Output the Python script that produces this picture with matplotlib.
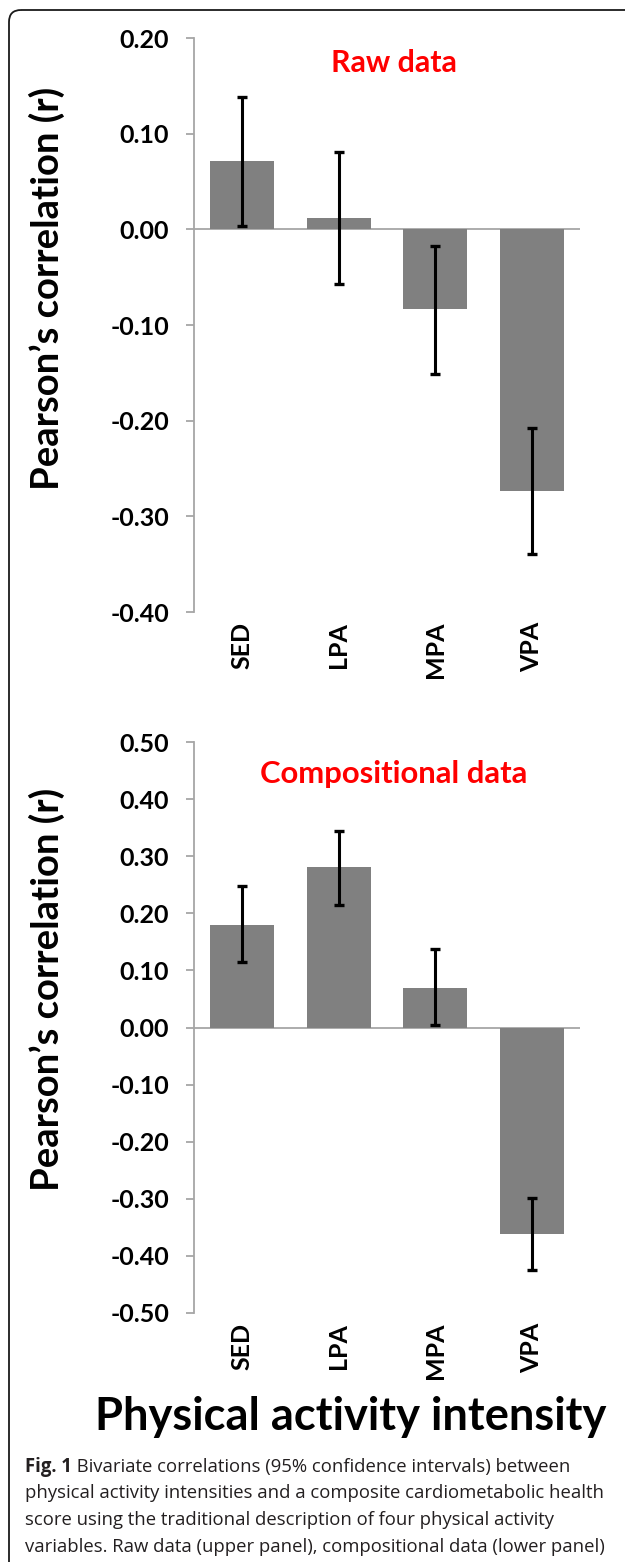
import numpy as np
import matplotlib
matplotlib.use("Agg")
import matplotlib.pyplot as plt
from matplotlib.patches import FancyBboxPatch
from matplotlib.transforms import Affine2D

# ------------------------------------------------------------------
# DATA (Pearson's r with 95% CI)
# ------------------------------------------------------------------
categories = ["SED", "LPA", "MPA", "VPA"]

raw_r  = [0.071, 0.012, -0.083, -0.273]
raw_lo = [0.004, -0.057, -0.151, -0.339]
raw_hi = [0.138, 0.081, -0.017, -0.208]

comp_r  = [0.180, 0.281, 0.070, -0.361]
comp_lo = [0.114, 0.215, 0.004, -0.424]
comp_hi = [0.247, 0.345, 0.138, -0.298]

raw_ticks  = [0.20, 0.10, 0.00, -0.10, -0.20, -0.30, -0.40]
comp_ticks = [0.50, 0.40, 0.30, 0.20, 0.10, 0.00, -0.10, -0.20, -0.30, -0.40, -0.50]

caption_bold = "Fig. 1"
caption_lines = [
    " Bivariate correlations (95% confidence intervals) between",
    "physical activity intensities and a composite cardiometabolic health",
    "score using the traditional description of four physical activity",
    "variables. Raw data (upper panel), compositional data (lower panel)",
]

# ------------------------------------------------------------------
# FIGURE
# ------------------------------------------------------------------
W, H = 625, 1562
plt.rcParams["font.family"] = ["Lato", "DejaVu Sans"]
fig = plt.figure(figsize=(W / 100, H / 100), dpi=100)
fig.patch.set_facecolor("white")

# pixel coordinates measured from the top-left corner
PX = Affine2D().scale(1 / W, -1 / H).translate(0, 1) + fig.transFigure


def fx(x):
    return x / W


def fy(y):
    return 1 - y / H


renderer = fig.canvas.get_renderer()


def fit(t, target, vertical=False):
    bb = t.get_window_extent(renderer)
    size = bb.height if vertical else bb.width
    t.set_fontsize(t.get_fontsize() * target / size)


# frame round the figure (only left and top edges visible)
frame = FancyBboxPatch((9, 10), 900, 1800, boxstyle="round,pad=0,rounding_size=12",
                       transform=PX, facecolor="none", edgecolor="#1a1a1a",
                       linewidth=1.3, clip_on=False)
fig.patches.append(frame)

BAR = "#808080"
AXC = "#a6a6a6"
x = np.arange(len(categories))


def panel(rect, vals, lo, hi, ticks, title, title_y, title_w):
    ax = fig.add_axes(rect)
    vals, lo, hi = np.array(vals), np.array(lo), np.array(hi)
    ax.bar(x, vals, width=0.66, color=BAR, zorder=2)
    ax.errorbar(x, vals, yerr=[vals - lo, hi - vals], fmt="none", ecolor="black",
                elinewidth=2.2, capsize=3.5, capthick=2.4, zorder=3)
    ax.axhline(0, color=AXC, lw=1.3, zorder=1)
    ax.set_xlim(-0.5, 3.5)
    ax.set_ylim(min(ticks), max(ticks))
    for s in ["top", "right", "bottom"]:
        ax.spines[s].set_visible(False)
    ax.spines["left"].set_color(AXC)
    ax.spines["left"].set_linewidth(1.3)
    ax.set_yticks(ticks)
    ax.set_yticklabels([f"{t:.2f}" for t in ticks], fontsize=18, fontweight="bold")
    ax.tick_params(axis="y", direction="out", length=6, width=1.3, color=AXC, pad=12)
    ax.set_xticks(x)
    ax.set_xticklabels(categories, rotation=90, fontsize=18, fontweight="bold")
    ax.tick_params(axis="x", length=0, pad=7)
    ax.set_facecolor("none")
    t = fig.text(fx(394), fy(title_y), title, color="#ff0000", fontsize=19,
                 fontweight="bold", ha="center", va="baseline")
    fit(t, title_w)
    return ax


ax1 = panel([fx(194), fy(612), (580 - 194) / W, (612 - 38) / H],
            raw_r, raw_lo, raw_hi, raw_ticks, "Raw data", 72, 126)
ax2 = panel([fx(194), fy(1313), (580 - 194) / W, (1313 - 742) / H],
            comp_r, comp_lo, comp_hi, comp_ticks, "Compositional data", 783, 267)

# y labels
for yc in (288, 989):
    t = fig.text(fx(47), fy(yc), "Pearson\u2019s correlation (r)", rotation=90,
                 fontsize=26, fontweight="bold", ha="center", va="center")
    fit(t, 404, vertical=True)

# common x label
t = fig.text(fx(351), fy(1430), "Physical activity intensity", fontsize=30,
             fontweight="bold", ha="center", va="baseline")
fit(t, 512)

# caption
cap_font = ["Open Sans", "DejaVu Sans"]
probe = fig.text(fx(25), fy(1493), caption_lines[1], fontsize=13, family=cap_font,
                 va="center", color="#231f20")
fit(probe, 577)
cap_size = probe.get_fontsize()
probe.remove()

line_y = [1467, 1493, 1520, 1547]
tb = fig.text(fx(25), fy(line_y[0]), caption_bold, fontsize=cap_size, family=cap_font,
              fontweight="bold", va="center", color="#231f20")
bw = tb.get_window_extent(renderer).width
for i, (ln, yy) in enumerate(zip(caption_lines, line_y)):
    x0 = 25 + bw if i == 0 else 25
    fig.text(fx(x0), fy(yy), ln, fontsize=cap_size, family=cap_font,
             va="center", color="#231f20")

fig.savefig("out.png", dpi=100)
